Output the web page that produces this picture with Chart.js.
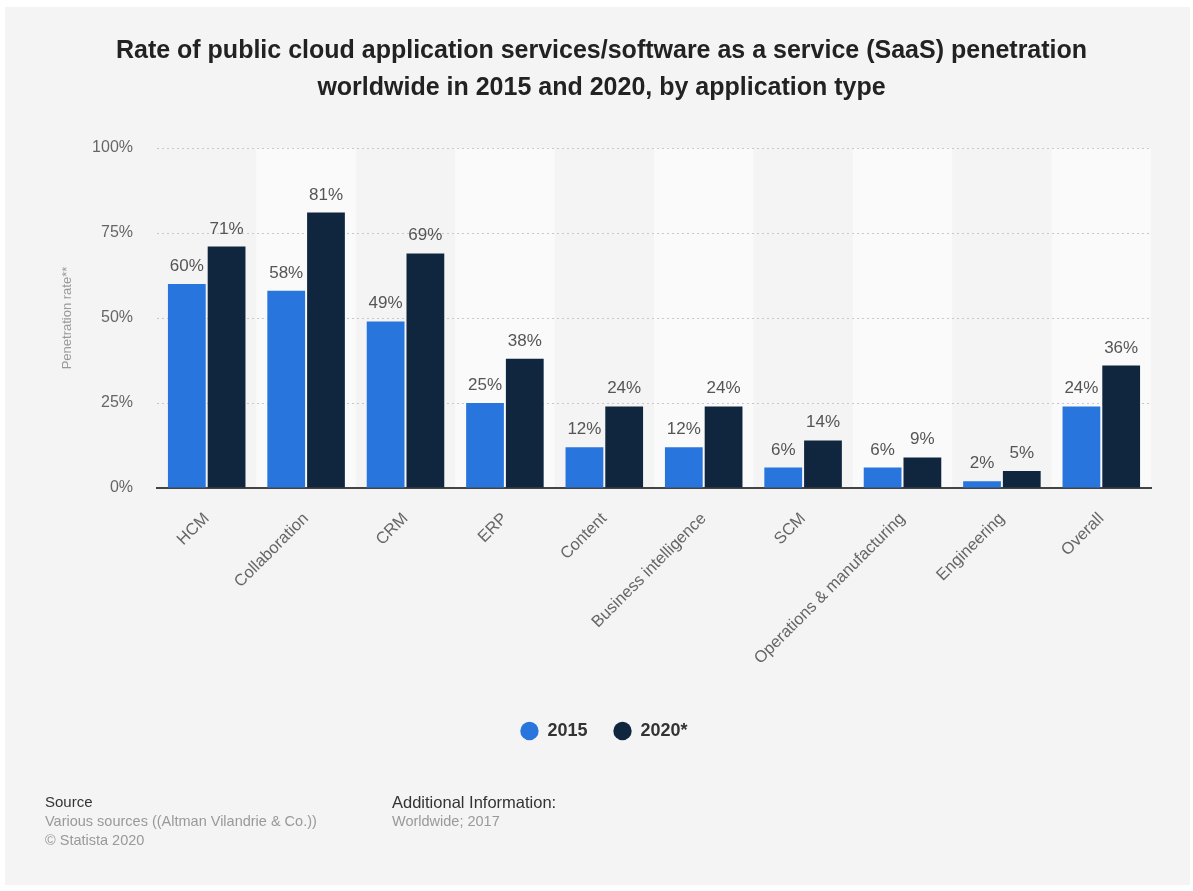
<!DOCTYPE html>
<html>
<head>
<meta charset="utf-8">
<script src="https://cdn.jsdelivr.net/npm/chart.js@4.4.0/dist/chart.umd.min.js"></script>
<style>
  html, body { margin: 0; padding: 0; background: #fff; width: 1193px; height: 891px; overflow: hidden; }
  body { font-family: "Liberation Sans", Arial, Helvetica, sans-serif; position: relative; }
  #panel { position: absolute; left: 5px; top: 7px; width: 1185px; height: 878px; background: #f4f4f4; }
  #wrap { position: absolute; left: 0; top: 0; width: 1193px; height: 891px; }
  #title { position: absolute; left: 0; top: 31px; width: 1203px; text-align: center; font-weight: bold; font-size: 25px; line-height: 37px; color: #222; }
  .foot { position: absolute; top: 792px; font-size: 15px; line-height: 20px; color: #333; }
  .foot span { display: block; color: #999; font-size: 14.5px; line-height: 19px; }
</style>
</head>
<body>
<div id="panel"></div>
<div id="wrap"><canvas id="chart" width="1193" height="891"></canvas></div>
<div id="title">Rate of public cloud application services/software as a service (SaaS) penetration<br>worldwide in 2015 and 2020, by application type</div>
<div class="foot" style="left:45px">Source<span>Various sources ((Altman Vilandrie &amp; Co.))</span><span>© Statista 2020</span></div>
<div class="foot" style="left:392px; font-size:16.5px">Additional Information:<span>Worldwide; 2017</span></div>
<script>
document.addEventListener("DOMContentLoaded", () => {
    // Chart data
    const categories = ["HCM", "Collaboration", "CRM", "ERP", "Content", "Business intelligence", "SCM", "Operations & manufacturing", "Engineering", "Overall"];
    const values2015 = [60, 58, 49, 25, 12, 12, 6, 6, 2, 24];
    const values2020 = [71, 81, 69, 38, 24, 24, 14, 9, 5, 36];
    const yTicks = [0, 25, 50, 75, 100];

    const font = "'Liberation Sans', Arial, sans-serif";

    // alternating column bands
    const bandPlugin = {
        id: "bands",
        beforeDraw(chart) {
            const { ctx, chartArea, scales: { x } } = chart;
            const w = x.getPixelForValue(1) - x.getPixelForValue(0);
            ctx.save();
            ctx.fillStyle = "#fafafa";
            categories.forEach((c, i) => {
                if (i % 2 === 1) {
                    const cx = x.getPixelForValue(i);
                    ctx.fillRect(cx - w / 2, chartArea.top, w, chartArea.bottom - chartArea.top);
                }
            });
            ctx.restore();
        }
    };

    // value labels above bars
    const labelPlugin = {
        id: "valueLabels",
        afterDatasetsDraw(chart) {
            const { ctx } = chart;
            ctx.save();
            ctx.font = "17px " + font;
            ctx.fillStyle = "#555";
            ctx.textAlign = "center";
            ctx.textBaseline = "alphabetic";
            chart.data.datasets.forEach((ds, di) => {
                chart.getDatasetMeta(di).data.forEach((bar, i) => {
                    ctx.fillText(ds.data[i] + "%", bar.x, bar.y - 13);
                });
            });
            ctx.restore();
        }
    };

    new Chart(document.getElementById("chart"), {
        type: "bar",
        data: {
            labels: categories,
            datasets: [
                { label: "2015", data: values2015, backgroundColor: "#2876dd", categoryPercentage: 0.8, barPercentage: 0.95 },
                { label: "2020*", data: values2020, backgroundColor: "#0f263e", categoryPercentage: 0.8, barPercentage: 0.95 }
            ]
        },
        options: {
            responsive: false,
            animation: false,
            layout: { padding: { top: 148, right: 42, left: 57, bottom: 141 } },
            plugins: {
                tooltip: { enabled: false },
                legend: {
                    position: "bottom",
                    labels: {
                        usePointStyle: true,
                        pointStyle: "circle",
                        boxHeight: 13,
                        padding: 26,
                        color: "#333",
                        font: { family: font, size: 18, weight: "bold" }
                    }
                }
            },
            scales: {
                x: {
                    grid: { display: false },
                    border: { color: "#444", width: 2 },
                    ticks: {
                        maxRotation: 45,
                        minRotation: 45,
                        padding: 13,
                        color: "#666",
                        font: { family: font, size: 16.5 }
                    },
                    afterFit(scale) { scale.height = 208; }
                },
                y: {
                    min: 0,
                    max: 100,
                    afterBuildTicks(scale) { scale.ticks = yTicks.map(v => ({ value: v })); },
                    grid: { color: "#c8c8c8", drawTicks: false },
                    border: { display: false, dash: [2, 3] },
                    ticks: {
                        padding: 24,
                        color: "#666",
                        font: { family: font, size: 16 },
                        callback: v => v + "%"
                    },
                    title: {
                        display: true,
                        text: "Penetration rate**",
                        color: "#999",
                        padding: { top: 3, bottom: 0 },
                        font: { family: font, size: 13 }
                    },
                    afterFit(scale) { scale.width = 100; }
                }
            }
        },
        plugins: [bandPlugin, labelPlugin]
    });
});
</script>
</body>
</html>
